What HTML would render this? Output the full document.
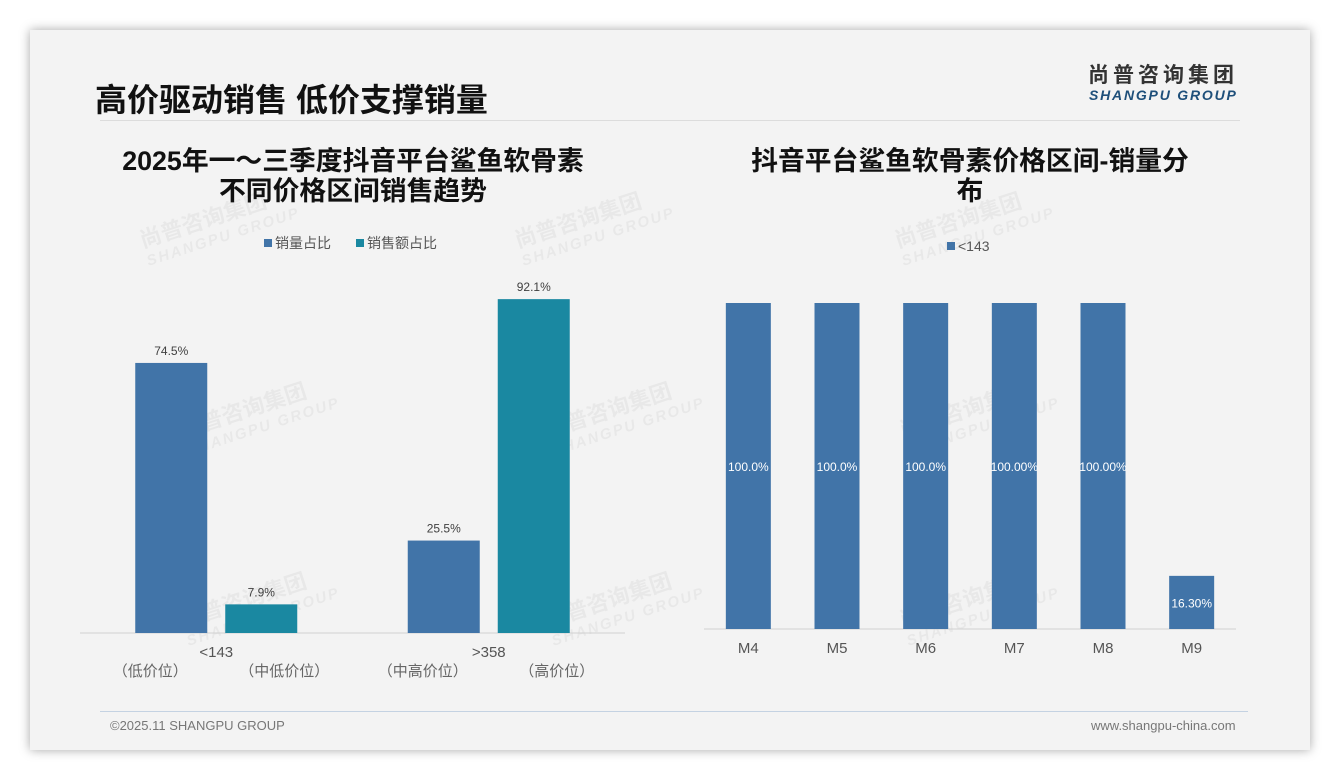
<!DOCTYPE html>
<html><head><meta charset="utf-8"><style>
body{margin:0;width:1340px;height:780px;background:#fff;font-family:"Liberation Sans","Noto Sans CJK SC",sans-serif;overflow:hidden;position:relative}
.card{position:absolute;left:30px;top:30px;width:1280px;height:720px;background:#f3f3f3;box-shadow:0 0 10px rgba(0,0,0,.35)}
.t{position:absolute;white-space:nowrap}
.wm{position:absolute;color:rgba(0,0,0,.045);font-weight:bold;transform:rotate(-18deg);font-size:22px;line-height:22px;white-space:nowrap}
.wm span{display:block;font-size:15px;letter-spacing:2px;font-style:italic}
</style></head><body>
<div class="card"></div>
<div class="t" style="left:95px;top:75px;font-size:32px;font-weight:bold;color:#111">高价驱动销售 低价支撑销量</div>
<div class="t" style="left:1088px;top:64px;font-size:21px;line-height:24px;font-weight:bold;color:#333;letter-spacing:4px">尚普咨询集团</div>
<div class="t" style="left:1089px;top:87px;font-size:14px;line-height:17px;font-weight:bold;font-style:italic;color:#1e4f7a;letter-spacing:1.8px">SHANGPU GROUP</div>
<div style="position:absolute;left:100px;top:120px;width:1140px;height:1px;background:#dcdcdc"></div>
<div class="wm" style="left:140px;top:205px">尚普咨询集团<span>SHANGPU GROUP</span></div>
<div class="wm" style="left:515px;top:205px">尚普咨询集团<span>SHANGPU GROUP</span></div>
<div class="wm" style="left:895px;top:205px">尚普咨询集团<span>SHANGPU GROUP</span></div>
<div class="wm" style="left:180px;top:395px">尚普咨询集团<span>SHANGPU GROUP</span></div>
<div class="wm" style="left:545px;top:395px">尚普咨询集团<span>SHANGPU GROUP</span></div>
<div class="wm" style="left:900px;top:395px">尚普咨询集团<span>SHANGPU GROUP</span></div>
<div class="wm" style="left:180px;top:585px">尚普咨询集团<span>SHANGPU GROUP</span></div>
<div class="wm" style="left:545px;top:585px">尚普咨询集团<span>SHANGPU GROUP</span></div>
<div class="wm" style="left:900px;top:585px">尚普咨询集团<span>SHANGPU GROUP</span></div>
<svg id="c" width="1340" height="780" style="position:absolute;left:0;top:0" font-family="Liberation Sans, Noto Sans CJK SC, sans-serif"></svg>
<div style="position:absolute;left:100px;top:711px;width:1148px;height:1px;background:#c4d2e2"></div>
<div class="t" style="left:110px;top:718px;font-size:13px;color:#777">©2025.11 SHANGPU GROUP</div>
<div class="t" style="left:1091px;top:718px;font-size:13px;color:#777">www.shangpu-china.com</div>
<script>
const leftCats=["<143",">358"];
const leftSubs=[["（低价位）","（中低价位）"],["（中高价位）","（高价位）"]];
const volShare=[74.5,25.5];
const salesShare=[7.9,92.1];
const rightCats=["M4","M5","M6","M7","M8","M9"];
const rightVals=[100,100,100,100,100,16.3];
const rightLabels=["100.0%","100.0%","100.0%","100.00%","100.00%","16.30%"];
const NS="http://www.w3.org/2000/svg";
const svg=document.getElementById('c');
function mk(tag,a,txt){const e=document.createElementNS(NS,tag);for(const k in a)e.setAttribute(k,a[k]);if(txt!=null)e.textContent=txt;svg.appendChild(e);return e;}
const BLUE="#4174a8",TEAL="#1a88a1";
let e;
e=mk('text',{x:353,y:170,'text-anchor':'middle','font-size':26.8,'font-weight':'bold',fill:'#111'},'2025年一～三季度抖音平台鲨鱼软骨素');

e=mk('text',{x:353,y:200,'text-anchor':'middle','font-size':26.8,'font-weight':'bold',fill:'#111'},'不同价格区间销售趋势');

e=mk('text',{x:970,y:170,'text-anchor':'middle','font-size':26.8,'font-weight':'bold',fill:'#111'},'抖音平台鲨鱼软骨素价格区间-销量分');

e=mk('text',{x:970,y:200,'text-anchor':'middle','font-size':26.8,'font-weight':'bold',fill:'#111'},'布');

e=mk('rect',{x:264,y:239,width:8,height:8,fill:BLUE});
e=mk('text',{x:275,y:248,'font-size':14,fill:'#555'},'销量占比');
e=mk('rect',{x:356,y:239,width:8,height:8,fill:TEAL});
e=mk('text',{x:367,y:248,'font-size':14,fill:'#555'},'销售额占比');
e=mk('rect',{x:947,y:242,width:8,height:8,fill:BLUE});
e=mk('text',{x:958,y:251,'font-size':14,fill:'#555'},'<143');
const L={x0:80,x1:625,base:633,scale:3.625};
const lw=(L.x1-L.x0)/leftCats.length;
const ly=v=>L.base-v*L.scale;
e=mk('line',{x1:L.x0,x2:L.x1,y1:L.base,y2:L.base,stroke:'#d0d0d0'});
leftCats.forEach((c,i)=>{
  const cx=L.x0+lw*(i+0.5);
  [[volShare,BLUE,-81,'volume'],[salesShare,TEAL,9,'sales']].forEach(([arr,col,off,nm])=>{
    const v=arr[i];
    let r=mk('rect',{x:cx+off,y:ly(v),width:72,height:v*L.scale,fill:col});
    
    let t=mk('text',{x:cx+off+36,y:ly(v)-8,'text-anchor':'middle','font-size':12,fill:'#404040'},v.toFixed(1)+'%');
    
  });
  let t=mk('text',{x:cx,y:657,'text-anchor':'middle','font-size':15,fill:'#555'},c);
  
  t=mk('text',{x:cx-66,y:676,'text-anchor':'middle','font-size':15,fill:'#666'},leftSubs[i][0]);
  
  t=mk('text',{x:cx+68,y:676,'text-anchor':'middle','font-size':15,fill:'#666'},leftSubs[i][1]);
  
});
const R={x0:704,x1:1236,base:629,scale:3.26};
const rw=(R.x1-R.x0)/rightCats.length;
const ry=v=>R.base-v*R.scale;
e=mk('line',{x1:R.x0,x2:R.x1,y1:R.base,y2:R.base,stroke:'#d0d0d0'});
rightCats.forEach((c,i)=>{
  const cx=R.x0+rw*(i+0.5);
  const v=rightVals[i];
  let r=mk('rect',{x:cx-22.5,y:ry(v),width:45,height:v*R.scale,fill:BLUE});
  
  let t=mk('text',{x:cx,y:(ry(v)+R.base)/2+5,'text-anchor':'middle','font-size':12,fill:'#fff'},rightLabels[i]);
  
  t=mk('text',{x:cx,y:653,'text-anchor':'middle','font-size':15,fill:'#555'},c);
  
});
</script>
</body></html>
